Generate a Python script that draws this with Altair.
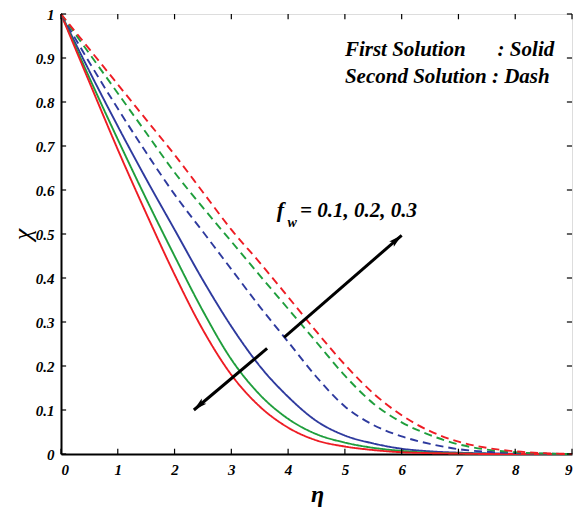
import altair as alt
import pandas as pd

# ---- data ----
eta = [0, 0.5, 1, 1.5, 2, 2.5, 3, 3.5, 4, 4.5, 5, 5.5, 6, 6.5, 7, 7.5, 8, 8.5, 9]

# First solution (solid)
first_fw01 = [1, 0.87, 0.745, 0.625, 0.51, 0.395, 0.29, 0.2, 0.13, 0.075, 0.042, 0.024, 0.012, 0.006, 0.003, 0.0015, 0.0005, 0, 0]  # blue
first_fw02 = [1, 0.855, 0.715, 0.58, 0.45, 0.325, 0.215, 0.135, 0.08, 0.045, 0.026, 0.014, 0.007, 0.003, 0.0015, 0.0005, 0, 0, 0]  # green
first_fw03 = [1, 0.845, 0.692, 0.547, 0.408, 0.282, 0.18, 0.108, 0.06, 0.031, 0.017, 0.009, 0.004, 0.002, 0.001, 0, 0, 0, 0]       # red

# Second solution (dashed)
second_fw01 = [1, 0.89, 0.785, 0.685, 0.59, 0.505, 0.42, 0.335, 0.255, 0.175, 0.108, 0.066, 0.04, 0.023, 0.011, 0.005, 0.002, 0.0007, 0]  # blue
second_fw02 = [1, 0.91, 0.82, 0.73, 0.64, 0.56, 0.483, 0.406, 0.33, 0.254, 0.178, 0.115, 0.072, 0.043, 0.022, 0.01, 0.004, 0.001, 0]     # green
second_fw03 = [1, 0.92, 0.84, 0.76, 0.68, 0.595, 0.51, 0.435, 0.357, 0.278, 0.203, 0.138, 0.088, 0.052, 0.028, 0.014, 0.006, 0.002, 0]   # red

series_names = ["fw=0.1", "fw=0.2", "fw=0.3"]
series_colors = ["#2e3a9e", "#1f9e3c", "#ee1c24"]

x_ticks = [0, 1, 2, 3, 4, 5, 6, 7, 8, 9]
y_ticks = [0, 0.1, 0.2, 0.3, 0.4, 0.5, 0.6, 0.7, 0.8, 0.9, 1]

# arrows (data coordinates): shaft start, tip
arrow_x = [3.93, 3.63]
arrow_y = [0.265, 0.240]
arrow_tip_x = [6.00, 2.34]
arrow_tip_y = [0.497, 0.10]
arrow_angle = [49, 229]

# ---- build tables ----
rows = []
for sol, lists in (("First", [first_fw01, first_fw02, first_fw03]),
                   ("Second", [second_fw01, second_fw02, second_fw03])):
    for name, ys in zip(series_names, lists):
        for xv, yv in zip(eta, ys):
            rows.append({"eta": xv, "chi": yv, "series": name, "sol": sol, "key": sol + name})
df = pd.DataFrame(rows)

tick_rows = []
for t in x_ticks:
    tick_rows.append({"x": t, "x2": t, "y": 0, "y2": 0.012})
    tick_rows.append({"x": t, "x2": t, "y": 1, "y2": 0.988})
for t in y_ticks:
    tick_rows.append({"x": 0, "x2": 0.09, "y": t, "y2": t})
    tick_rows.append({"x": 9, "x2": 8.91, "y": t, "y2": t})
ticks_df = pd.DataFrame(tick_rows)

arrows_df = pd.DataFrame({"x": arrow_x, "y": arrow_y, "x2": arrow_tip_x,
                          "y2": arrow_tip_y, "angle": arrow_angle})

FONT = "Liberation Serif, Times New Roman, DejaVu Serif, serif"

xscale = alt.Scale(domain=[0, 9], nice=False, zero=False)
yscale = alt.Scale(domain=[0, 1], nice=False)

xaxis = alt.Axis(values=x_ticks, format="~g", ticks=False, grid=False, labelFont=FONT,
                 labelFontStyle="italic", labelFontWeight="bold", labelFontSize=15,
                 labelColor="black", labelPadding=8, domainColor="black", domainWidth=2,
                 title="η", titleFont=FONT, titleFontStyle="italic", titleFontWeight="bold",
                 titleFontSize=24, titleColor="black", titleX=256, titleY=40,
                 titleBaseline="middle")
yaxis = alt.Axis(values=y_ticks, format="~g", ticks=False, grid=False, labelFont=FONT,
                 labelFontStyle="italic", labelFontWeight="bold", labelFontSize=15,
                 labelColor="black", labelPadding=7, domainColor="black", domainWidth=2,
                 title="χ", titleFont=FONT, titleFontStyle="italic", titleFontSize=26,
                 titleFontWeight="normal", titleColor="black", titleX=-39, titleY=220,
                 titleBaseline="middle", titleAlign="center")

lines = alt.Chart(df).mark_line(strokeWidth=1.9, interpolate="monotone").encode(
    x=alt.X("eta:Q", scale=xscale, axis=xaxis),
    y=alt.Y("chi:Q", scale=yscale, axis=yaxis),
    color=alt.Color("series:N", scale=alt.Scale(domain=series_names, range=series_colors), legend=None),
    strokeDash=alt.StrokeDash("sol:N", scale=alt.Scale(domain=["First", "Second"], range=[[1, 0], [8, 5]]), legend=None),
    detail="key:N",
)

ticks = alt.Chart(ticks_df).mark_rule(color="black", strokeWidth=1.2).encode(
    x=alt.X("x:Q", scale=xscale), x2="x2:Q",
    y=alt.Y("y:Q", scale=yscale), y2="y2:Q",
)

shafts = alt.Chart(arrows_df).mark_rule(color="black", strokeWidth=3).encode(
    x=alt.X("x:Q", scale=xscale), x2="x2:Q",
    y=alt.Y("y:Q", scale=yscale), y2="y2:Q",
)

heads = alt.Chart(arrows_df).mark_point(
    shape="M0,0L0.5,1.9L0,1.5L-0.5,1.9Z", filled=True, color="black", opacity=1, size=200
).encode(
    x=alt.X("x2:Q", scale=xscale), y=alt.Y("y2:Q", scale=yscale),
    angle=alt.Angle("angle:Q", scale=None),
)

def label(x, y, text, size):
    return alt.Chart(pd.DataFrame({"x": [x], "y": [y], "t": [text]})).mark_text(
        font=FONT, fontStyle="italic", fontWeight="bold", fontSize=size, color="black",
        align="left", baseline="alphabetic"
    ).encode(x=alt.X("x:Q", scale=xscale), y=alt.Y("y:Q", scale=yscale), text="t:N")

texts = [
    label(5.0, 0.905, "First Solution", 21),
    label(7.69, 0.905, ": Solid", 21),
    label(5.0, 0.844, "Second Solution : Dash", 21),
    label(3.80, 0.538, "f", 22),
    label(3.99, 0.515, "w", 14),
    label(4.21, 0.538, "= 0.1, 0.2, 0.3", 21),
]

chart = alt.layer(lines, ticks, shafts, heads, *texts).properties(
    width=511, height=440,
    autosize=alt.AutoSizeParams(type="none"),
    padding={"left": 53, "top": 6, "right": 3, "bottom": 55},
).configure_view(stroke="black", strokeWidth=1.5).configure(background="white")

chart.save("out.html", embed_options={"renderer": "svg", "actions": False})
